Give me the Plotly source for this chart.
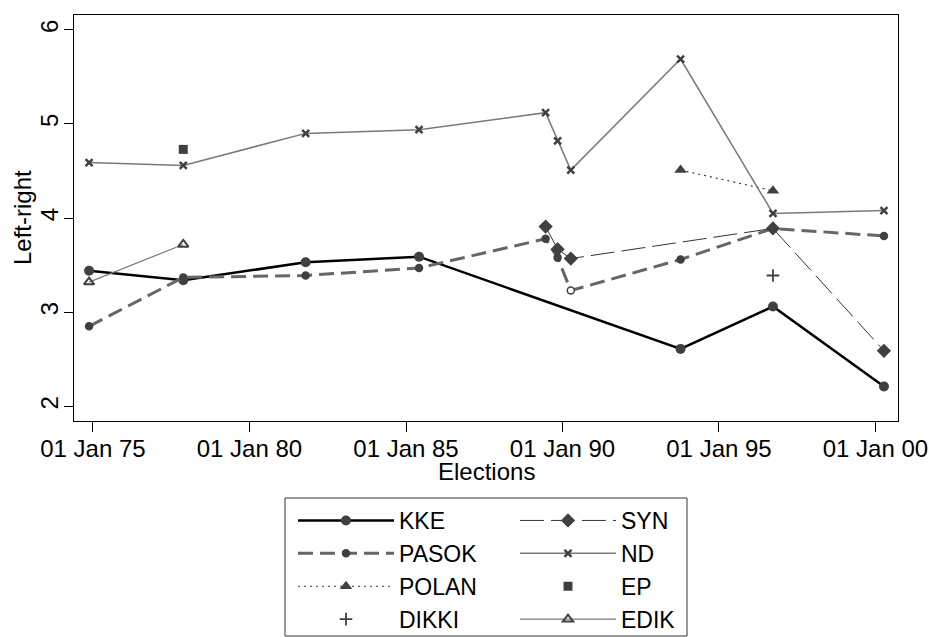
import plotly.graph_objects as go

# Election dates (Greek parliamentary elections)
elections = ["1974-11-17", "1977-11-20", "1981-10-18", "1985-06-02", "1989-06-18",
             "1989-11-05", "1990-04-08", "1993-10-10", "1996-09-22", "2000-04-09"]

KKE   = [3.44, 3.34, 3.53, 3.59, None, None, None, 2.61, 3.06, 2.21]
PASOK = [2.85, 3.37, 3.39, 3.47, 3.78, 3.58, 3.23, 3.56, 3.89, 3.81]
POLAN = [None, None, None, None, None, None, None, 4.51, 4.29, None]
DIKKI = [None, None, None, None, None, None, None, None, 3.39, None]
SYN   = [None, None, None, None, 3.91, 3.67, 3.57, None, 3.89, 2.59]
ND    = [4.59, 4.56, 4.90, 4.94, 5.12, 4.82, 4.51, 5.69, 4.05, 4.08]
EP    = [None, 4.73, None, None, None, None, None, None, None, None]
EDIK  = [3.32, 3.72, None, None, None, None, None, None, None, None]

tick_dates = ["1975-01-01", "1980-01-01", "1985-01-01", "1990-01-01", "1995-01-01", "2000-01-01"]
tick_text = ["01 Jan 75", "01 Jan 80", "01 Jan 85", "01 Jan 90", "01 Jan 95", "01 Jan 00"]
y_ticks = [2, 3, 4, 5, 6]

FONT = "Liberation Sans, Arial, sans-serif"
FS = 24
MK = "#404040"

# plot-area geometry in pixels (used to place paper-referenced items)
L, R, T, B = 74, 898, 15, 421
PW, PH = R - L, B - T

def px_x(p):
    return (p - L) / PW

def px_y(p):
    return (B - p) / PH

fig = go.Figure()

def add(name, vals, mode, line=None, marker=None, legend="legend"):
    fig.add_trace(go.Scatter(
        x=elections, y=vals, name=name, mode=mode, connectgaps=True,
        line=line, marker=marker, legend=legend, hoverinfo="x+y+name"))

# column 1 of legend
add("KKE", KKE, "lines+markers",
    line=dict(color="#000000", width=2.5),
    marker=dict(symbol="circle", size=10, color=MK))
add("PASOK", PASOK, "lines+markers",
    line=dict(color="#666666", width=3, dash="15px,7px"),
    marker=dict(symbol="circle", size=7,
                color=[MK if i != 6 else "#ffffff" for i in range(len(PASOK))],
                line=dict(color=MK, width=1.5)))
add("POLAN", POLAN, "lines+markers",
    line=dict(color="#333333", width=1.2, dash="2px,4px"),
    marker=dict(symbol="triangle-up", size=11, color=MK))
add("DIKKI", DIKKI, "markers",
    marker=dict(symbol="cross-thin", size=9, color=MK, line=dict(color=MK, width=1.8)))
# column 2 of legend
add("SYN", SYN, "lines+markers",
    line=dict(color="#333333", width=1, dash="24px,7px"),
    marker=dict(symbol="diamond", size=11, color=MK), legend="legend2")
add("ND", ND, "lines+markers",
    line=dict(color="#7a7a7a", width=1.5),
    marker=dict(symbol="x-thin", size=7, color=MK, line=dict(color=MK, width=2.5)),
    legend="legend2")
add("EP", EP, "markers",
    marker=dict(symbol="square", size=9, color=MK), legend="legend2")
add("EDIK", EDIK, "lines+markers",
    line=dict(color="#7a7a7a", width=1.2),
    marker=dict(symbol="triangle-up-open", size=9, color=MK, line=dict(color=MK, width=2)),
    legend="legend2")

leg_common = dict(font=dict(family=FONT, size=23, color="#000000"),
                  bgcolor="rgba(0,0,0,0)", borderwidth=0, itemwidth=96,
                  orientation="v", xanchor="left", yanchor="top", tracegroupgap=0)

fig.update_layout(
    width=929, height=637,
    margin=dict(l=L, r=929 - R, t=T, b=637 - B, autoexpand=False),
    paper_bgcolor="white", plot_bgcolor="white",
    font=dict(family=FONT, size=FS, color="#000000"),
    showlegend=True,
    legend=dict(x=px_x(293), y=px_y(499), **leg_common),
    legend2=dict(x=px_x(515), y=px_y(499), **leg_common),
    xaxis=dict(
        type="date", range=["1974-05-25", "2000-09-20"],
        tickmode="array", tickvals=tick_dates, ticktext=tick_text,
        ticks="outside", ticklen=10, tickwidth=1, tickcolor="#000000",
        showline=True, linecolor="#000000", linewidth=1, mirror=True,
        showgrid=False, zeroline=False, automargin=False,
        tickfont=dict(family=FONT, size=FS), ticklabelstandoff=-4,
    ),
    yaxis=dict(
        range=[1.844, 6.158],
        tickmode="array", tickvals=y_ticks,
        ticks="outside", ticklen=9, tickwidth=1, tickcolor="#000000",
        showline=True, linecolor="#000000", linewidth=1, mirror=True,
        showgrid=False, zeroline=False, tickangle=-90, automargin=False,
        tickfont=dict(family=FONT, size=FS), ticklabelstandoff=-4,
    ),
    annotations=[
        dict(text="Elections", xref="paper", yref="paper", x=px_x(486), y=px_y(471),
             xanchor="center", yanchor="middle", showarrow=False,
             font=dict(family=FONT, size=FS)),
        dict(text="Left-right", xref="paper", yref="paper", x=px_x(22), y=px_y(218),
             xanchor="center", yanchor="middle", showarrow=False, textangle=-90,
             font=dict(family=FONT, size=FS)),
    ],
    shapes=[dict(type="rect", xref="paper", yref="paper",
                 x0=px_x(285), x1=px_x(687), y0=px_y(636), y1=px_y(498),
                 line=dict(color="#333333", width=1), fillcolor="rgba(0,0,0,0)")],
)

fig.write_html("out.html", config={"displayModeBar": False},
               post_script="document.body.style.margin='0px';document.body.style.overflow='hidden';")
